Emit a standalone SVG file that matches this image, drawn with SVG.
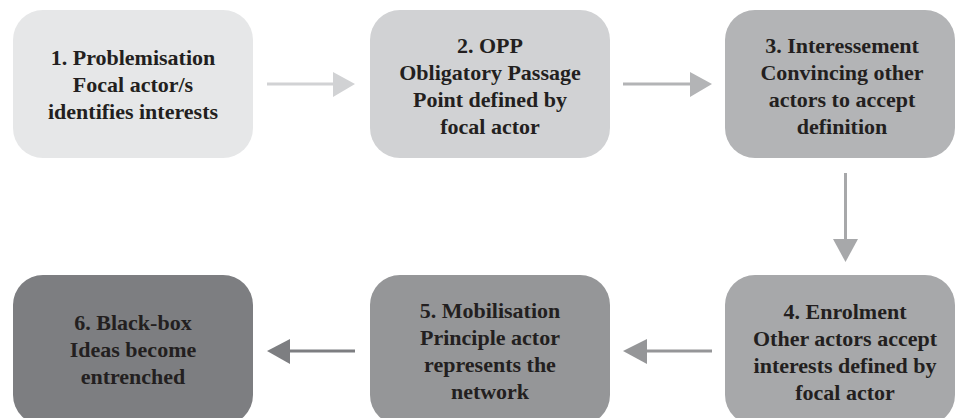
<svg xmlns="http://www.w3.org/2000/svg" width="956" height="418" viewBox="0 0 956 418">
<style>
text{font-family:"Liberation Serif","Times New Roman",serif;font-weight:bold;font-size:22px;fill:#231f20;text-anchor:middle}
.ln{stroke-width:3;fill:none}
</style>
<rect width="956" height="418" fill="#ffffff"/>
<g id="connectors">
  <line class="ln" x1="267" y1="84" x2="334" y2="84" stroke="#d1d2d4"/>
  <polygon points="333,72 355,84 333,97" fill="#d1d2d4"/>
  <line class="ln" x1="623" y1="84" x2="691" y2="84" stroke="#b3b4b6"/>
  <polygon points="690,72 712,84 690,97" fill="#b3b4b6"/>
  <line class="ln" x1="845.5" y1="173" x2="845.5" y2="240" stroke="#a7a8aa"/>
  <polygon points="833,239 858,239 845.5,262" fill="#a7a8aa"/>
  <line class="ln" x1="712" y1="351" x2="646" y2="351" stroke="#959698"/>
  <polygon points="647,339 623,351 647,364" fill="#959698"/>
  <line class="ln" x1="355" y1="351" x2="289" y2="351" stroke="#7d7e81"/>
  <polygon points="290,339 267,351 290,364" fill="#7d7e81"/>
</g>
<g id="node1">
  <rect x="13" y="10" width="240" height="148" rx="30" fill="#e6e7e8"/>
  <text x="133" y="65">1. Problemisation</text>
  <text x="133" y="92">Focal actor/s</text>
  <text x="133" y="119">identifies interests</text>
</g>
<g id="node2">
  <rect x="370" y="10" width="240" height="148" rx="30" fill="#d1d2d4"/>
  <text x="490" y="53">2. OPP</text>
  <text x="490" y="80">Obligatory Passage</text>
  <text x="490" y="107">Point defined by</text>
  <text x="490" y="134">focal actor</text>
</g>
<g id="node3">
  <rect x="725" y="10" width="230" height="148" rx="30" fill="#b3b4b6"/>
  <text x="842" y="53">3. Interessement</text>
  <text x="842" y="80">Convincing other</text>
  <text x="842" y="107">actors to accept</text>
  <text x="842" y="134">definition</text>
</g>
<g id="node4">
  <rect x="725" y="275" width="230" height="150" rx="30" fill="#a7a8aa"/>
  <text x="845" y="319">4. Enrolment</text>
  <text x="845" y="346">Other actors accept</text>
  <text x="845" y="373">interests defined by</text>
  <text x="845" y="400">focal actor</text>
</g>
<g id="node5">
  <rect x="370" y="275" width="240" height="150" rx="30" fill="#959698"/>
  <text x="490" y="318">5. Mobilisation</text>
  <text x="490" y="345">Principle actor</text>
  <text x="490" y="372">represents the</text>
  <text x="490" y="399">network</text>
</g>
<g id="node6">
  <rect x="13" y="275" width="240" height="150" rx="30" fill="#7d7e81"/>
  <text x="133" y="330">6. Black-box</text>
  <text x="133" y="357">Ideas become</text>
  <text x="133" y="384">entrenched</text>
</g>
</svg>
